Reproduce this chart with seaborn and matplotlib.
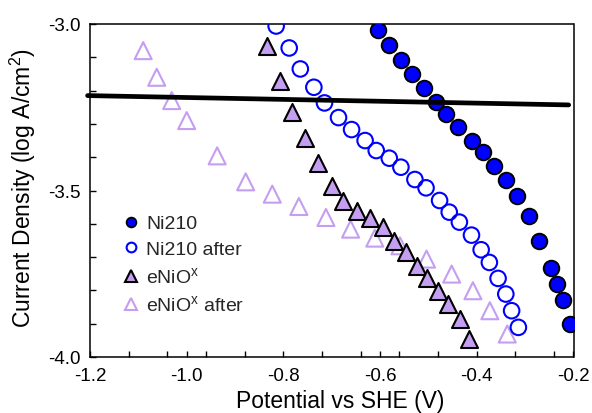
import matplotlib
matplotlib.use("Agg")
import matplotlib.pyplot as plt
import seaborn as sns
import pandas as pd
from matplotlib.lines import Line2D

# ---- data ----
ni210_x = [-0.604, -0.581, -0.557, -0.533, -0.509, -0.485, -0.463, -0.438, -0.410, -0.387,
           -0.364, -0.340, -0.316, -0.293, -0.271, -0.247, -0.234, -0.222, -0.207]
ni210_y = [-3.018, -3.063, -3.108, -3.150, -3.193, -3.235, -3.270, -3.308, -3.350, -3.385,
           -3.425, -3.468, -3.518, -3.576, -3.651, -3.734, -3.781, -3.828, -3.901]

ni210a_x = [-0.815, -0.788, -0.765, -0.737, -0.715, -0.686, -0.659, -0.631, -0.608, -0.581,
            -0.557, -0.528, -0.505, -0.477, -0.457, -0.436, -0.411, -0.391, -0.374, -0.356,
            -0.340, -0.328, -0.314]
ni210a_y = [-3.006, -3.072, -3.135, -3.190, -3.237, -3.281, -3.317, -3.350, -3.380, -3.403,
            -3.430, -3.467, -3.492, -3.530, -3.565, -3.595, -3.634, -3.678, -3.716, -3.764,
            -3.811, -3.861, -3.911]

enio_x = [-0.833, -0.807, -0.783, -0.755, -0.728, -0.700, -0.676, -0.648, -0.621, -0.595,
          -0.571, -0.546, -0.524, -0.502, -0.480, -0.459, -0.435, -0.416]
enio_y = [-3.067, -3.170, -3.263, -3.343, -3.417, -3.487, -3.533, -3.562, -3.583, -3.611,
          -3.651, -3.684, -3.728, -3.763, -3.802, -3.840, -3.886, -3.946]

enioa_x = [-1.090, -1.062, -1.031, -1.000, -0.937, -0.878, -0.823, -0.768, -0.712, -0.661,
           -0.611, -0.559, -0.504, -0.452, -0.408, -0.373, -0.337]
enioa_y = [-3.080, -3.160, -3.230, -3.290, -3.396, -3.474, -3.511, -3.548, -3.581, -3.616,
           -3.643, -3.666, -3.706, -3.751, -3.801, -3.861, -3.931]

line_x = [-1.205, -0.21]
line_y = [-3.215, -3.243]

labels = ["Ni210", "Ni210 after", "eNiO$^{x}$", "eNiO$^{x}$ after"]
xticks = [-1.2, -1.0, -0.8, -0.6, -0.4, -0.2]
yticks = [-4.0, -3.5, -3.0]

# ---- style ----
sns.set_theme(style="ticks")
plt.rcParams["font.family"] = ["Liberation Sans", "DejaVu Sans"]
plt.rcParams["mathtext.default"] = "regular"

BLUE = "#0000ff"
LAV = "#c49ef0"

fig = plt.figure(figsize=(5.92, 4.14), dpi=100)
ax = fig.add_axes([90 / 592, 1 - 358 / 414, 483.5 / 592, 333 / 414])

d1 = pd.DataFrame({"x": ni210_x, "y": ni210_y})
d2 = pd.DataFrame({"x": ni210a_x, "y": ni210a_y})
d3 = pd.DataFrame({"x": enio_x, "y": enio_y})
d4 = pd.DataFrame({"x": enioa_x, "y": enioa_y})

sns.scatterplot(data=d4, x="x", y="y", ax=ax, marker="^", s=150,
                facecolor="none", edgecolor=LAV, linewidth=1.5, zorder=2)
sns.scatterplot(data=d3, x="x", y="y", ax=ax, marker="^", s=150,
                color=LAV, edgecolor="black", linewidth=1.5, zorder=3)
sns.scatterplot(data=d2, x="x", y="y", ax=ax, marker="o", s=125,
                facecolor="none", edgecolor=BLUE, linewidth=1.5, zorder=4)
sns.scatterplot(data=d1, x="x", y="y", ax=ax, marker="o", s=125,
                color=BLUE, edgecolor="black", linewidth=1.4, zorder=5)
sns.lineplot(x=line_x, y=line_y, ax=ax, color="black", linewidth=3.4,
             zorder=6, clip_on=False)

ax.set_xlim(-1.2, -0.2)
ax.set_ylim(-4.0, -3.0)
ax.set_xticks(xticks)
ax.set_xticklabels([f"{v:.1f}" for v in xticks])
ax.set_yticks(yticks)
ax.set_yticklabels([f"{v:.1f}" for v in yticks])
ax.set_xticks([-1.2 + 0.08 * k for k in range(1, 13)], minor=True)
ax.set_yticks([-3.0 - 0.1 * k for k in range(1, 10)], minor=True)
ax.tick_params(which="both", direction="in", length=4, width=1, color="black",
               top=False, right=False, labelsize=13.5, labelcolor="black")
ax.tick_params(axis="x", which="major", pad=7)
ax.tick_params(axis="y", which="major", pad=7)
for sp in ax.spines.values():
    sp.set_visible(True)
    sp.set_color("black")
    sp.set_linewidth(1.1)

ax.set_xlabel("Potential vs SHE (V)", fontsize=16.5, color="black")
ax.set_ylabel("Current Density (log A/cm$^{2}$)", fontsize=16.5, color="black")
ax.xaxis.set_label_coords(0.517, -0.097)
ax.yaxis.set_label_coords(-0.108, 0.51)

handles = [
    Line2D([], [], linestyle="none", marker="o", markersize=7, markerfacecolor=BLUE,
           markeredgecolor="black", markeredgewidth=1.3),
    Line2D([], [], linestyle="none", marker="o", markersize=7, markerfacecolor="none",
           markeredgecolor=BLUE, markeredgewidth=1.5),
    Line2D([], [], linestyle="none", marker="^", markersize=8, markerfacecolor=LAV,
           markeredgecolor="black", markeredgewidth=1.5),
    Line2D([], [], linestyle="none", marker="^", markersize=8, markerfacecolor="none",
           markeredgecolor=LAV, markeredgewidth=1.5),
]
ax.legend(handles, labels, loc="upper left", bbox_to_anchor=(115 / 592, 1 - 208 / 414),
          bbox_transform=fig.transFigure, frameon=False, fontsize=14,
          handlelength=0.8, handletextpad=0.4, labelspacing=0.42, borderaxespad=0)

fig.savefig("out.png", dpi=100)
